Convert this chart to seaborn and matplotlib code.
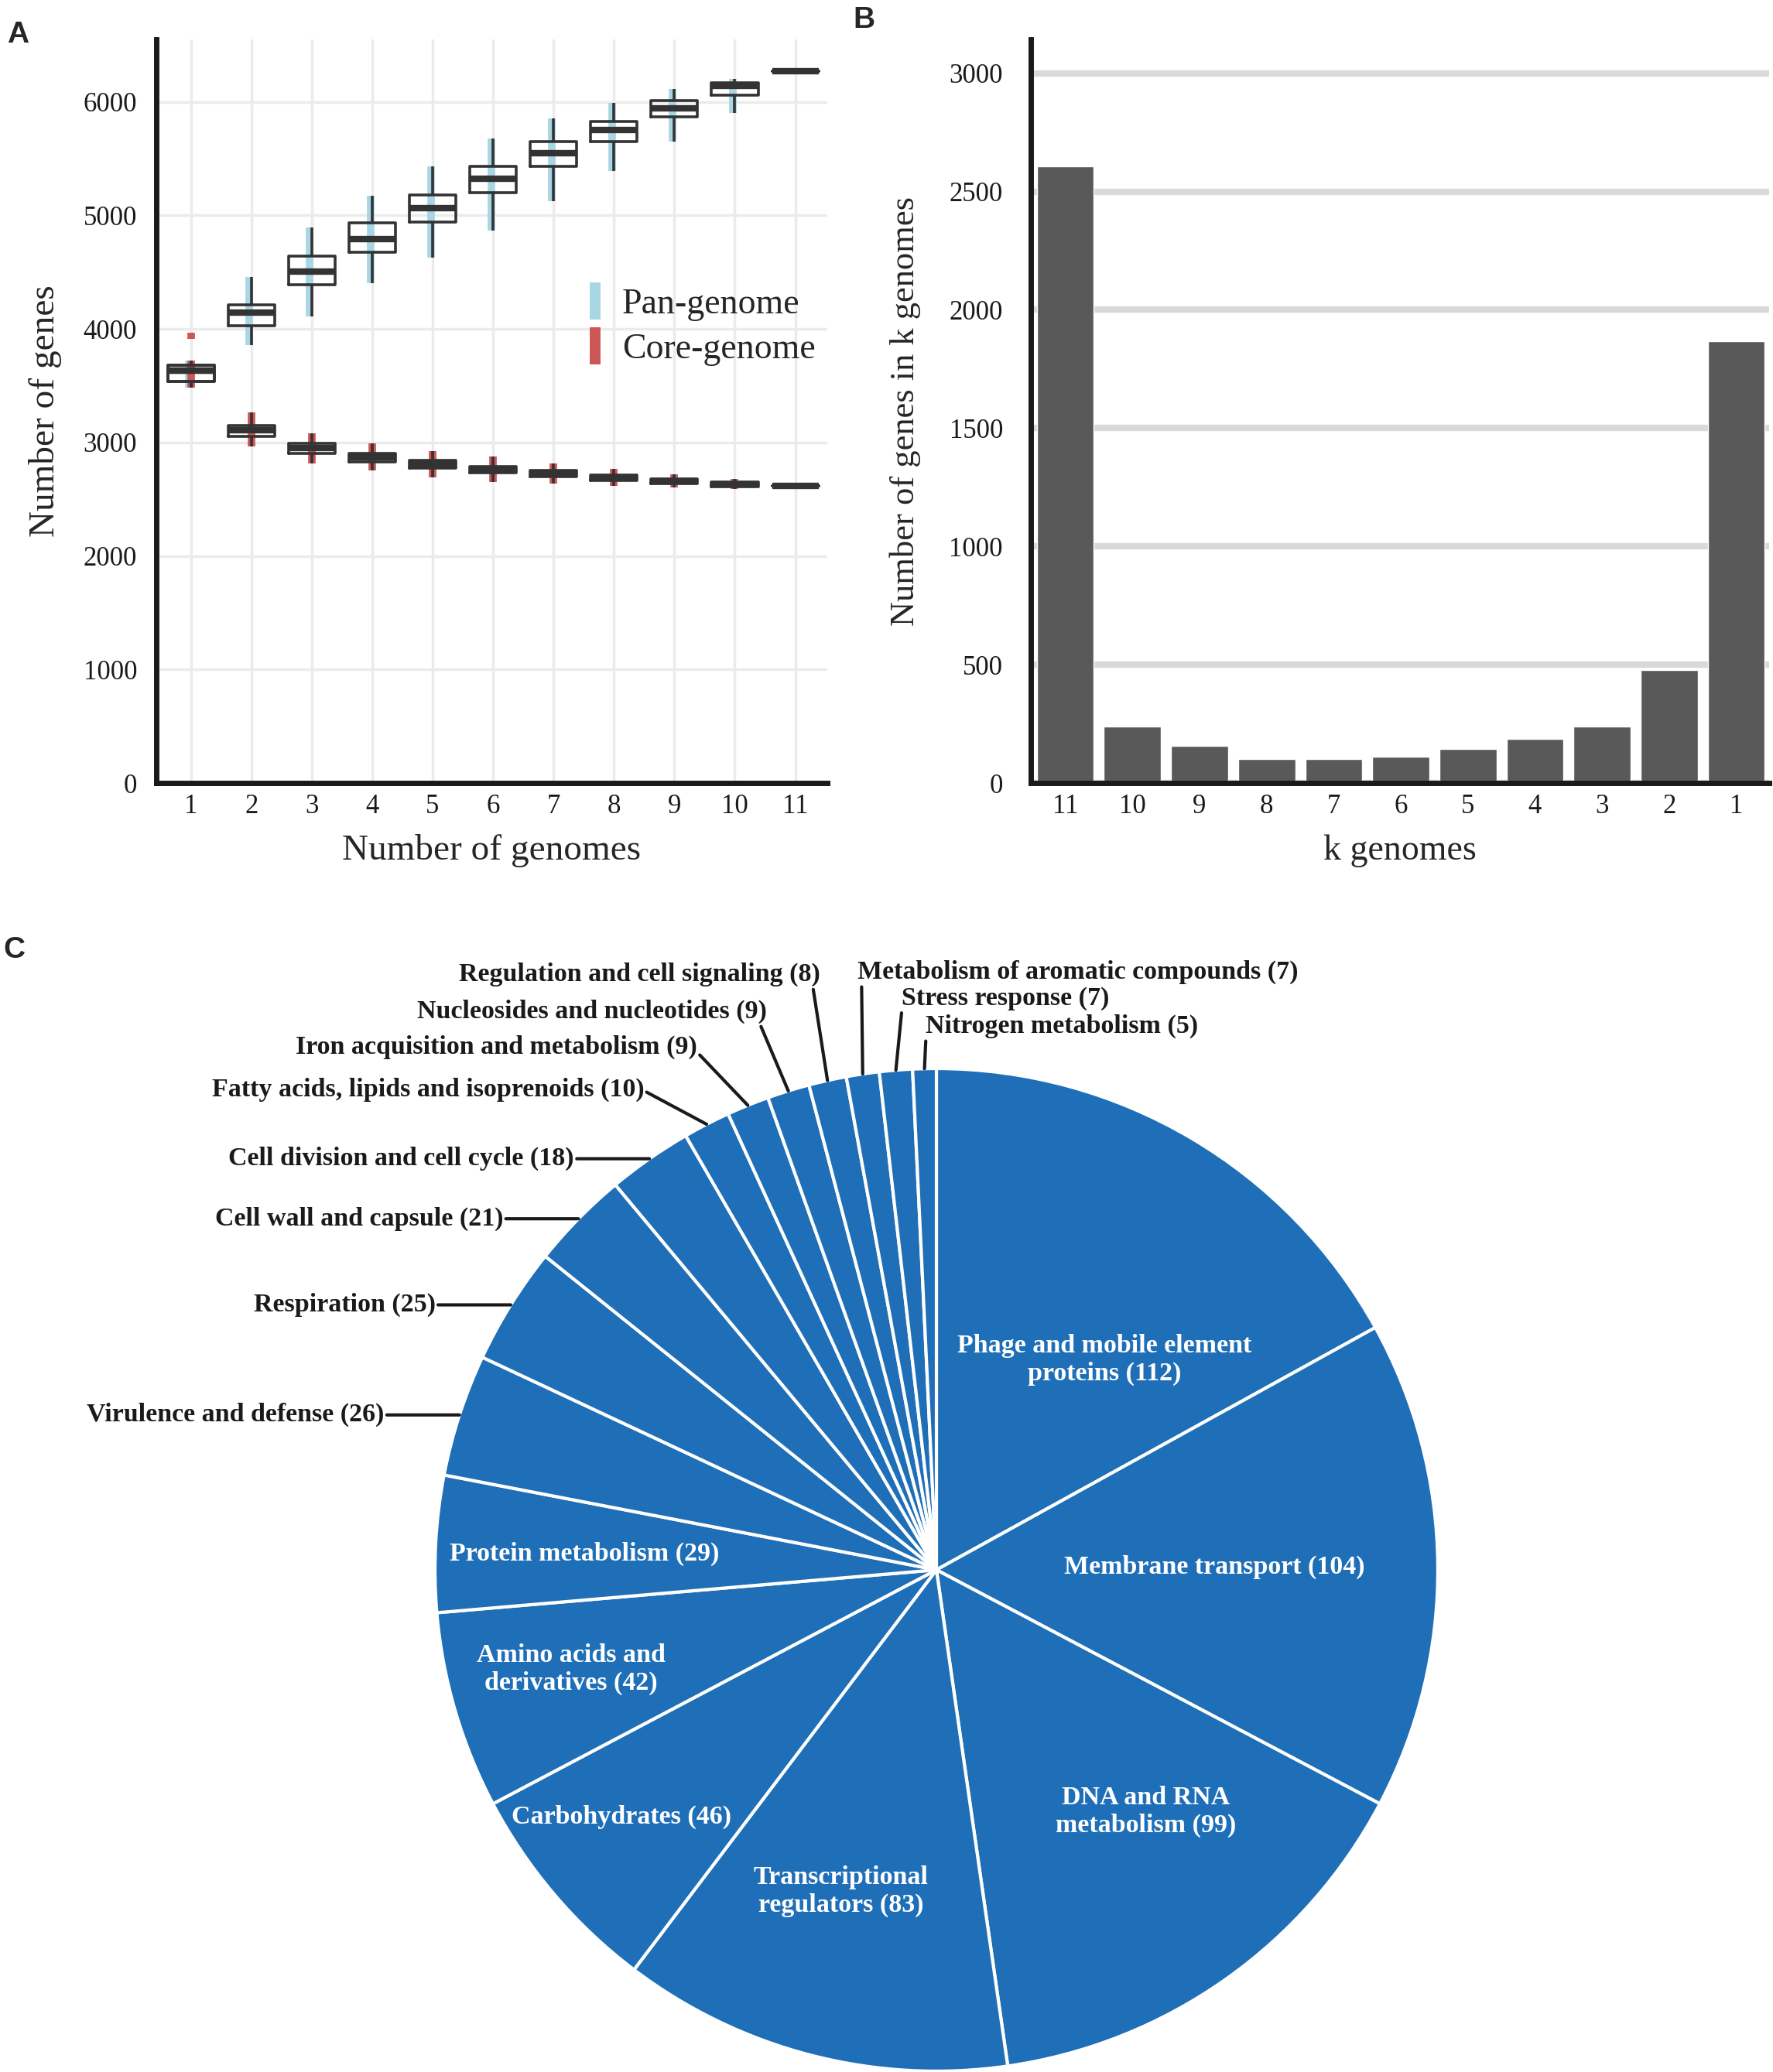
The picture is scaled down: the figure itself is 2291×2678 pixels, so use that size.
import numpy as np
import pandas as pd
import matplotlib
matplotlib.use('Agg')
import matplotlib.pyplot as plt
from matplotlib.lines import Line2D
import seaborn as sns

# ---- data: panel A (pan/core genome curves) ----
n_genomes = ['1', '2', '3', '4', '5', '6', '7', '8', '9', '10', '11']
# min, q1, median, q3, max per number of genomes
pan_lo  = [3480, 3855, 4110, 4400, 4630, 4865, 5125, 5390, 5650, 5900, 6270]
pan_q1  = [3535, 4030, 4390, 4675, 4940, 5200, 5430, 5650, 5865, 6060, 6270]
pan_med = [3630, 4145, 4505, 4790, 5065, 5325, 5550, 5750, 5940, 6140, 6270]
pan_q3  = [3680, 4215, 4640, 4935, 5180, 5430, 5650, 5830, 6010, 6165, 6270]
pan_hi  = [3720, 4455, 4895, 5175, 5430, 5675, 5855, 5990, 6115, 6205, 6270]
core_lo  = [3480, 2965, 2815, 2750, 2690, 2650, 2635, 2615, 2605, 2590, 2615]
core_q1  = [3535, 3050, 2905, 2830, 2775, 2730, 2700, 2665, 2640, 2610, 2615]
core_med = [3630, 3105, 2950, 2870, 2810, 2760, 2725, 2690, 2660, 2630, 2615]
core_q3  = [3680, 3150, 2995, 2905, 2840, 2790, 2750, 2715, 2680, 2650, 2615]
core_hi  = [3720, 3265, 3080, 2990, 2925, 2875, 2815, 2765, 2720, 2675, 2615]
core_extra_n = ['1']
core_extra_val = [3940]

# ---- data: panel B (genes shared by k genomes) ----
k_genomes = ['11', '10', '9', '8', '7', '6', '5', '4', '3', '2', '1']
k_counts = [2605, 240, 156, 100, 100, 110, 144, 187, 240, 476, 1867]

# ---- data: panel C (functional categories) ----
cat_names = ['Phage and mobile element\nproteins', 'Membrane transport',
             'DNA and RNA\nmetabolism', 'Transcriptional\nregulators',
             'Carbohydrates', 'Amino acids and\nderivatives', 'Protein metabolism',
             'Virulence and defense', 'Respiration', 'Cell wall and capsule',
             'Cell division and cell cycle', 'Fatty acids, lipids and isoprenoids',
             'Iron acquisition and metabolism', 'Nucleosides and nucleotides',
             'Regulation and cell signaling', 'Metabolism of aromatic compounds',
             'Stress response', 'Nitrogen metabolism']
cat_counts = [112, 104, 99, 83, 46, 42, 29, 26, 25, 21, 18, 10, 9, 9, 8, 7, 7, 5]

sns.set_theme(style='white')
plt.rcParams['font.family'] = ['Liberation Serif', 'DejaVu Serif']

PAN = '#a9d6e3'
CORE = '#cd5656'
BOXC = '#333333'
PIE = '#1f6fb8'

fig = plt.figure(figsize=(22.91, 26.78), dpi=100)

# ================= Panel A =================
axA = fig.add_axes([0.0882, 0.6221, 0.3784, 0.3589])
rows = []
for kind, cols in [('Pan', (pan_lo, pan_q1, pan_med, pan_q3, pan_hi)),
                   ('Core', (core_lo, core_q1, core_med, core_q3, core_hi))]:
    for i, n in enumerate(n_genomes):
        for c in cols:
            rows.append({'n': n, 'genes': c[i], 'type': kind})
dfA = pd.DataFrame(rows)

pos = np.arange(len(n_genomes))
axA.vlines(pos - 0.03, pan_lo, pan_hi, colors=PAN, linewidth=7, zorder=1)
axA.vlines(pos, core_lo, core_hi, colors=CORE, linewidth=7, zorder=1)
axA.vlines([n_genomes.index(n) for n in core_extra_n],
           np.array(core_extra_val) - 25, np.array(core_extra_val) + 25,
           colors=CORE, linewidth=7, zorder=1)

for kind in ['Pan', 'Core']:
    sns.boxplot(data=dfA[dfA['type'] == kind], x='n', y='genes', order=n_genomes,
                fill=False, color=BOXC, width=0.77, whis=np.inf, linewidth=2.6,
                medianprops={'linewidth': 6}, showcaps=False, ax=axA, zorder=3)

axA.set_xlim(-0.57, 10.53)
axA.set_ylim(0, 6550)
axA.set_yticks([0, 1000, 2000, 3000, 4000, 5000, 6000])
axA.grid(True, color='#ebebeb', linewidth=2.5, zorder=0)
axA.set_axisbelow(True)
for s in ['top', 'right']:
    axA.spines[s].set_visible(False)
for s in ['left', 'bottom']:
    axA.spines[s].set_color('#1a1a1a')
    axA.spines[s].set_linewidth(5)
axA.tick_params(axis='y', length=0, pad=18, labelsize=25, colors='#1a1a1a')
axA.tick_params(axis='x', length=0, pad=10, labelsize=25, colors='#1a1a1a')
axA.set_xlabel('Number of genomes', fontsize=34, labelpad=14)
axA.set_ylabel('Number of genes', fontsize=34, labelpad=20)
handles = [Line2D([0], [0], color=PAN, lw=0, marker='|', markersize=34, mew=10),
           Line2D([0], [0], color=CORE, lw=0, marker='|', markersize=34, mew=10)]
axA.legend(handles, ['Pan-genome', 'Core-genome'], loc='center left',
           bbox_to_anchor=(0.575, 0.613), frameon=False, fontsize=33,
           handletextpad=0.15, handlelength=1.2, labelspacing=0.35)

# ================= Panel B =================
axB = fig.add_axes([0.5814, 0.6221, 0.4164, 0.3589])
dfB = pd.DataFrame({'k': k_genomes, 'count': k_counts})
sns.barplot(data=dfB, x='k', y='count', order=k_genomes, color='#595959',
            saturation=1, width=0.85, ax=axB, zorder=2)
axB.set_xlim(-0.515, 10.49)
axB.set_ylim(0, 3143)
axB.set_yticks([0, 500, 1000, 1500, 2000, 2500, 3000])
axB.yaxis.grid(True, color='#d9d9d9', linewidth=6, zorder=0)
axB.xaxis.grid(False)
axB.set_axisbelow(True)
for s in ['top', 'right']:
    axB.spines[s].set_visible(False)
for s in ['left', 'bottom']:
    axB.spines[s].set_color('#1a1a1a')
    axB.spines[s].set_linewidth(5)
axB.tick_params(axis='y', length=0, pad=26, labelsize=25, colors='#1a1a1a')
axB.tick_params(axis='x', length=0, pad=10, labelsize=25, colors='#1a1a1a')
axB.set_xlabel('k genomes', fontsize=33, labelpad=14)
axB.set_ylabel('Number of genes in k genomes', fontsize=32, labelpad=26)

# ================= Panel C =================
axC = fig.add_axes([0.2453, 0.0004, 0.5657, 0.4839])
wedges, _ = axC.pie(cat_counts, startangle=90, counterclock=False,
                    colors=[PIE] * len(cat_counts),
                    wedgeprops={'edgecolor': 'white', 'linewidth': 3})
axC.set_xlim(-1, 1)
axC.set_ylim(-1, 1)
axC.set_aspect('equal')
axC.axis('off')

labels = [f'{n} ({c})' for n, c in zip(cat_names, cat_counts)]

# inner labels (first seven slices)
inner_pos = [(0.335, 0.419), (0.554, 0.005), (0.417, -0.483), (-0.190, -0.641),
             (-0.628, -0.493), (-0.728, -0.198), (-0.702, 0.032)]
for lab, (x, y) in zip(labels[:7], inner_pos):
    axC.text(x, y, lab, color='white', fontsize=24.5, fontweight='bold',
             ha='center', va='center', linespacing=1.2)

# outer labels with leader lines
mid = []
for w in wedges:
    a = np.deg2rad((w.theta1 + w.theta2) / 2)
    mid.append((np.cos(a), np.sin(a)))

outer = {
    7: dict(xy_off=(-0.15, 0), ha='right', rel=(1, 0.5)),
    8: dict(xy_off=(-0.15, 0), ha='right', rel=(1, 0.5)),
    9: dict(xy_off=(-0.15, 0), ha='right', rel=(1, 0.5)),
    10: dict(xy_off=(-0.15, 0), ha='right', rel=(1, 0.5)),
    11: dict(txt=(-0.583, 0.958), ha='right', rel=(1, 0.45)),
    12: dict(txt=(-0.477, 1.042), ha='right', rel=(1, 0.3)),
    13: dict(txt=(-0.338, 1.113), ha='right', rel=(0.98, 0.0)),
    14: dict(txt=(-0.232, 1.187), ha='right', rel=(0.98, 0.0)),
    15: dict(txt=(-0.158, 1.192), ha='left', rel=(0.01, 0.0)),
    16: dict(txt=(-0.069, 1.140), ha='left', rel=(0.0, 0.0)),
    17: dict(txt=(-0.021, 1.084), ha='left', rel=(0.0, 0.0)),
}
for i, o in outer.items():
    ex, ey = mid[i]
    if 'txt' in o:
        tx, ty = o['txt']
    else:
        tx, ty = ex + o['xy_off'][0], ey + o['xy_off'][1]
    axC.annotate(labels[i], xy=(ex, ey), xytext=(tx, ty), ha=o['ha'], va='center',
                 fontsize=24.5, fontweight='bold', color='#1a1a1a',
                 annotation_clip=False,
                 arrowprops=dict(arrowstyle='-', color='#1a1a1a', lw=3,
                                 shrinkA=0, shrinkB=0, relpos=o['rel']))

# panel letters
for letter, x, y in [('A', 0.004, 0.990), ('B', 0.481, 0.997), ('C', 0.002, 0.548)]:
    fig.text(x, y, letter, fontsize=28, fontweight='bold', family='Liberation Sans',
             ha='left', va='top')

fig.savefig('out.png', dpi=100, facecolor='white')
